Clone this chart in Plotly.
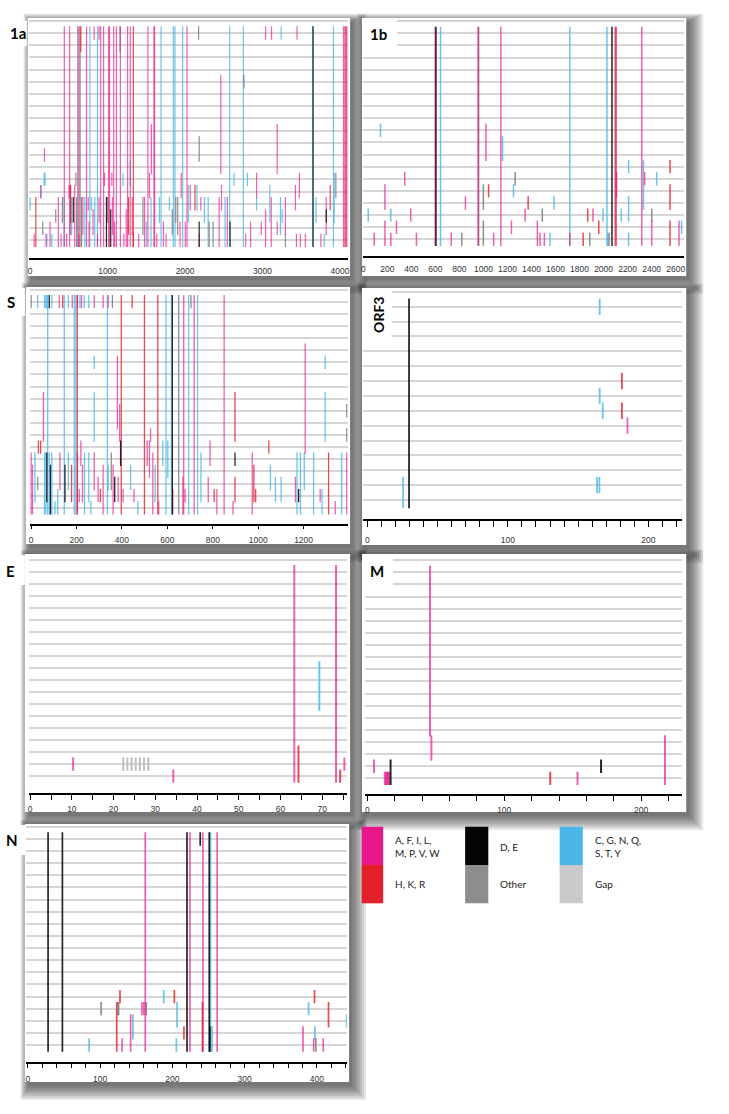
import plotly.graph_objects as go

W, H = 729, 1114

# ---------------- data: (alignment position, first row, last row) ----------------
# rows are sequences counted from the top (0 = first sequence)

# ---- 1a ----
A1A_PINK = [(441, 0, 17), (510, 0, 17), (630, 0, 17), (728, 0, 17), (910, 0, 17), (948, 0, 17),
            (1012, 0, 17), (1025, 0, 17), (1078, 0, 17), (1113, 0, 17), (1165, 0, 17), (1258, 0, 17),
            (1292, 0, 17), (1520, 0, 17), (1598, 0, 17), (1606, 0, 17), (2025, 0, 17), (4045, 0, 17),
            (4062, 0, 17), (4088, 0, 17),
            (826, 0, 0), (890, 0, 0), (3039, 0, 0), (3116, 0, 0), (3445, 0, 0), (2461, 4, 11),
            (3189, 8, 11), (1565, 8, 11), (185, 10, 10), (52, 17, 17), (137, 13, 13), (206, 17, 17),
            (257, 16, 17), (364, 14, 17), (400, 17, 17), (471, 17, 17), (500, 13, 13), (518, 13, 16),
            (575, 13, 17), (629, 17, 17), (680, 14, 16), (750, 14, 14), (760, 16, 17), (812, 15, 16),
            (869, 17, 17), (890, 14, 15), (960, 12, 12), (1055, 12, 12), (1062, 14, 16), (1090, 16, 17),
            (1210, 17, 17), (1241, 15, 17), (1318, 14, 16), (1400, 17, 17), (1477, 14, 17), (1540, 12, 13),
            (1635, 17, 17), (1720, 16, 17), (1755, 17, 17), (1935, 16, 17), (1950, 12, 13), (2003, 16, 17),
            (2067, 13, 14), (2182, 17, 17), (2204, 14, 14), (2439, 14, 17), (2470, 13, 14), (2545, 14, 17),
            (2782, 17, 17), (2846, 16, 17), (2923, 12, 13), (2983, 16, 16), (3039, 15, 17), (3112, 14, 17),
            (3189, 16, 16), (3295, 14, 16), (3424, 13, 14), (3437, 17, 17), (3475, 12, 13), (3488, 17, 17),
            (3552, 17, 17), (3753, 17, 17), (3822, 14, 16)]
A1A_RED = [(1332, 0, 17), (4075, 0, 17), (655, 0, 1), (73, 14, 17), (522, 13, 15), (1270, 14, 16),
           (1330, 17, 17), (2127, 13, 14), (3873, 13, 14)]
A1A_BLUE = [(771, 0, 17), (870, 0, 17), (1690, 0, 17), (1848, 0, 17), (1870, 0, 17), (1969, 0, 17),
            (2576, 0, 17), (2752, 0, 17), (3646, 0, 17), (3915, 0, 17),
            (3240, 0, 0), (180, 12, 12), (0, 14, 14), (141, 13, 13), (193, 12, 12), (215, 17, 17),
            (279, 17, 17), (437, 14, 17), (535, 14, 16), (706, 14, 17), (792, 14, 14), (834, 14, 17),
            (1199, 12, 12), (1292, 11, 12), (1500, 16, 17), (1560, 14, 17), (1669, 14, 15), (1797, 14, 14),
            (2041, 13, 15), (2153, 13, 14), (2250, 14, 15), (2298, 14, 17), (2516, 14, 17), (2632, 12, 12),
            (2804, 12, 12), (2923, 14, 14), (3094, 13, 15), (3231, 14, 16), (3253, 15, 15), (3689, 14, 15),
            (3796, 17, 17), (3924, 12, 15)]
A1A_GRAY = [(615, 0, 17), (645, 0, 17), (1160, 0, 1), (2174, 0, 0), (2760, 4, 4), (2182, 9, 10),
            (163, 16, 16), (330, 15, 15), (416, 14, 15), (590, 12, 12), (600, 14, 17), (664, 14, 17),
            (1000, 14, 15), (1456, 14, 16), (1835, 15, 16), (1880, 14, 15), (1905, 14, 16), (2311, 16, 17),
            (2362, 16, 17), (3295, 17, 17), (3946, 12, 13)]
A1A_BLACK = [(3652, 0, 17), (557, 14, 15), (985, 14, 17), (1040, 15, 17), (2182, 16, 17), (2580, 16, 17),
             (3822, 15, 15)]

# ---- 1b ----
B1B_PINK = [(598, 0, 17), (955, 0, 17), (1145, 0, 17), (2096, 0, 17), (2318, 0, 17),
            (345, 12, 12), (180, 13, 14), (395, 15, 15), (180, 16, 17), (276, 16, 16), (91, 17, 17),
            (229, 17, 17), (442, 17, 17), (732, 17, 17), (850, 14, 14), (1021, 8, 10), (1085, 17, 17),
            (1233, 16, 16), (1347, 15, 15), (1449, 16, 17), (1471, 17, 17), (1507, 17, 17), (1719, 17, 17),
            (1912, 15, 15), (2108, 12, 13), (2342, 12, 12), (2401, 16, 17), (2628, 16, 17)]
B1B_RED = [(2104, 0, 17), (1043, 13, 13), (1372, 14, 14), (1830, 17, 17), (1868, 15, 15), (1960, 16, 16),
           (2553, 11, 11), (2553, 13, 14), (2553, 16, 17)]
B1B_BLUE = [(643, 0, 17), (1719, 0, 17), (2028, 0, 17),
            (143, 8, 8), (41, 15, 15), (229, 15, 15), (1159, 9, 10), (1250, 13, 13), (1554, 17, 17),
            (1587, 14, 14), (1995, 15, 15), (2036, 17, 17), (2147, 15, 15), (2208, 11, 11), (2208, 14, 15),
            (2208, 17, 17), (2332, 11, 14), (2442, 12, 12), (2649, 16, 16)]
B1B_GRAY = [(960, 0, 17), (820, 17, 17), (999, 13, 14), (999, 16, 17), (1264, 12, 12), (1490, 15, 15),
            (1885, 17, 17), (2046, 17, 17), (2401, 15, 15)]
B1B_BLACK = [(605, 0, 17), (2070, 0, 17)]

# ---- S ----
S_BLUE = [(73, 0, 17), (146, 0, 17), (190, 0, 17), (197, 0, 17), (336, 0, 17), (594, 0, 17), (618, 0, 17),
          (694, 0, 17), (733, 0, 17),
          (29, 0, 0), (59, 0, 0), (65, 0, 0), (69, 0, 0), (91, 0, 0), (164, 0, 0), (215, 0, 0), (234, 0, 0),
          (254, 0, 0), (278, 5, 5), (278, 8, 11), (1295, 5, 5), (1295, 8, 11),
          (17, 13, 16), (59, 13, 17), (65, 13, 17), (80, 13, 17), (91, 13, 17), (105, 17, 17), (117, 16, 17),
          (164, 13, 15), (235, 13, 17), (254, 13, 16), (263, 17, 17), (339, 14, 15), (438, 14, 15),
          (470, 17, 17), (546, 14, 16), (580, 12, 13), (602, 12, 14), (748, 13, 16), (1054, 14, 15),
          (1076, 15, 16), (1101, 15, 16), (1171, 13, 17), (1186, 13, 17), (1203, 13, 15), (1244, 13, 17),
          (1281, 16, 17), (1368, 13, 17)]
S_RED = [(203, 0, 17), (397, 0, 17), (499, 0, 17), (558, 0, 17),
         (139, 0, 0), (445, 0, 0), (32, 12, 12), (42, 12, 12), (178, 14, 16), (305, 16, 16), (806, 16, 16),
         (898, 8, 11), (898, 15, 16), (981, 14, 16), (989, 16, 16), (1047, 12, 12), (1310, 13, 17)]
S_PINK = [(672, 0, 17), (718, 0, 17), (850, 0, 17),
          (124, 0, 0), (181, 0, 0), (204, 0, 0), (222, 0, 0), (278, 0, 0), (317, 0, 0), (339, 0, 0),
          (380, 5, 10), (390, 9, 11), (54, 8, 11), (1207, 4, 12), (526, 11, 11),
          (0, 13, 17), (6, 14, 17), (127, 13, 15), (204, 13, 17), (212, 16, 16), (219, 12, 13), (226, 14, 16),
          (278, 13, 15), (295, 15, 16), (317, 14, 17), (361, 14, 17), (383, 15, 16), (405, 16, 16),
          (453, 16, 16), (511, 12, 13), (521, 12, 14), (536, 13, 17), (562, 17, 17), (624, 16, 17),
          (668, 15, 17), (678, 16, 16), (788, 12, 13), (780, 15, 16), (818, 16, 17), (889, 17, 17),
          (974, 13, 17), (1164, 15, 16), (1273, 16, 16), (1339, 17, 17), (1390, 13, 17)]
S_GRAY = [(650, 0, 17), (0, 0, 0), (358, 0, 0), (704, 0, 0), (1390, 9, 9), (1390, 11, 11), (353, 13, 15),
          (29, 15, 15)]
S_BLACK = [(622, 0, 17), (80, 0, 0), (69, 13, 16), (85, 14, 17), (149, 14, 16), (368, 15, 16), (394, 12, 13),
           (898, 13, 13), (1178, 16, 16)]

# ---- ORF3 ----
O3_BLACK = [(29.7, 0, 13)]
O3_BLUE = [(25.5, 12, 13), (165.3, 0, 0), (165.3, 6, 6), (167.5, 7, 7), (163.4, 12, 12), (165.1, 12, 12)]
O3_RED = [(181.1, 5, 5), (181.1, 7, 7)]
O3_PINK = [(185.1, 8, 8)]

# ---- E ----
E_PINK = [(63.3, 0, 17), (73.3, 0, 17), (10.3, 16, 16), (34.3, 17, 17), (75.3, 16, 16)]
E_RED = [(64.3, 15, 17), (74.3, 17, 17)]
E_BLUE = [(69.3, 8, 11)]
E_GAP = [(22.3, 16, 16), (23.3, 16, 16), (24.3, 16, 16), (25.3, 16, 16), (26.3, 16, 16), (27.3, 16, 16),
         (28.3, 16, 16)]

# ---- M ----
M_PINK = [(45.8, 0, 13), (46.8, 14, 15), (4.9, 16, 16), (12.8, 17, 17), (13.6, 17, 17), (14.4, 17, 17),
          (15.2, 17, 17), (16.0, 17, 17), (153.5, 17, 17), (217.4, 14, 17)]
M_BLACK = [(17.0, 16, 17), (170.7, 16, 16)]
M_RED = [(133.6, 17, 17)]

# ---- N ----
N_BLACK = [(28, 0, 17), (47.8, 0, 17), (220.2, 0, 17), (251, 0, 17), (238.5, 0, 0), (251.8, 16, 17)]
N_PINK = [(162.4, 0, 17), (224.3, 0, 17), (242.2, 0, 17), (261.9, 0, 17),
          (130.3, 17, 17), (142.2, 15, 17), (157.8, 14, 14), (160.5, 14, 14), (380.7, 16, 17),
          (395.5, 17, 17), (408.7, 17, 17)]
N_BLUE = [(252.6, 0, 17), (84.8, 17, 17), (188, 13, 13), (206.4, 14, 15), (205.5, 17, 17), (254.8, 16, 17),
          (145.4, 15, 16), (124.7, 14, 14), (388.5, 14, 14), (397.3, 16, 16), (441, 15, 15)]
N_GRAY = [(101.4, 14, 14), (125.5, 14, 14), (163.8, 14, 14), (398.5, 17, 17)]
N_RED = [(241.6, 14, 17), (127.5, 13, 13), (123, 14, 17), (202.7, 13, 13), (216, 16, 16), (396.7, 13, 13),
         (416, 14, 15)]

# legend
LEGEND_LABELS = ["A, F, I, L,<br>M, P, V, W", "H, K, R", "D, E", "Other", "C, G, N, Q,<br>S, T, Y", "Gap"]

# ---------------- styling ----------------
MARK_COL = dict(pink='rgba(232,24,140,0.68)', red='rgba(226,30,38,0.8)', black='rgba(15,15,15,0.9)',
                gray='rgba(125,125,125,0.85)', blue='rgba(70,180,230,0.78)', gap='rgba(190,190,192,1)')
SOLID = dict(pink='#E8178C', red='#E3202A', black='#050505', gray='#8D8D8D', blue='#4BB7E7', gap='#C9CACC')

PANELS = [
    dict(name='1a', n=18, box=(26, 18, 350, 276), xl=26.7, xr=348, x0=28.3, k=0.0779, yr0=33, dy=12.2,
         ytop=19.5, yax=257.7, width=1.2, ticks=dict(tickvals=[0, 1000, 2000, 3000, 4000]), tl=0, so=4,
         marks=[('blue', A1A_BLUE), ('gray', A1A_GRAY), ('pink', A1A_PINK), ('red', A1A_RED), ('black', A1A_BLACK)]),
    dict(name='1b', n=18, box=(362, 18, 688, 276), xl=363, xr=685.5, x0=363.3, k=0.1208, yr0=33.3, dy=12.12,
         ytop=19.5, yax=256, width=1.5, ticks=dict(dtick=200, tick0=0), tl=0, so=4,
         marks=[('blue', B1B_BLUE), ('gray', B1B_GRAY), ('pink', B1B_PINK), ('red', B1B_RED), ('black', B1B_BLACK)]),
    dict(name='S', n=18, box=(24, 287, 350, 544), xl=28.3, xr=347.7, x0=29.3, k=0.2283, yr0=301.7, dy=12.12,
         ytop=288.5, yax=524.3, width=1.3, ticks=dict(dtick=200, tick0=0), tl=3, so=3,
         marks=[('blue', S_BLUE), ('gray', S_GRAY), ('pink', S_PINK), ('red', S_RED), ('black', S_BLACK)]),
    dict(name='ORF3', n=14, box=(362, 288, 688, 545), xl=363.3, xr=683.3, x0=367.3, k=1.4135, yr0=306.7,
         dy=14.87, ytop=290.5, yax=519.3, width=1.8, ticks=dict(dtick=100, tick0=0), tl=6, so=5,
         minor=10, marks=[('blue', O3_BLUE), ('pink', O3_PINK), ('red', O3_RED), ('black', O3_BLACK)]),
    dict(name='E', n=18, box=(23, 554, 350, 812), xl=26.7, xr=346.7, x0=28.3, k=4.196, yr0=571.7, dy=12.03,
         ytop=558.5, yax=793.3, width=2.0, ticks=dict(dtick=10, tick0=0), tl=5, so=1,
         minor=5, marks=[('gap', E_GAP), ('blue', E_BLUE), ('pink', E_PINK), ('red', E_RED)]),
    dict(name='M', n=18, box=(362, 554, 688, 812), xl=365, xr=683.3, x0=367.3, k=1.377, yr0=572.3, dy=12.12,
         ytop=559, yax=794.3, width=2.0, ticks=dict(dtick=100, tick0=0), tl=5, so=1,
         minor=20, marks=[('pink', M_PINK), ('red', M_RED), ('black', M_BLACK)]),
    dict(name='N', n=18, box=(23, 824, 349, 1082), xl=24, xr=346.7, x0=26, k=0.7267, yr0=839, dy=12.12,
         ytop=825.5, yax=1062.3, width=1.7, ticks=dict(dtick=100, tick0=0), tl=4, so=3,
         minor=20, marks=[('blue', N_BLUE), ('gray', N_GRAY), ('pink', N_PINK), ('red', N_RED), ('black', N_BLACK)]),
]

LABELS = [  # text, box (x0,y0,x1,y1), centre, rotation
    ('1a', (0, 21, 25, 46), (16, 33), 0),
    ('1b', (362, 18, 397, 46), (379, 34), 0),
    ('S', (0, 288, 23, 316), (9, 302), 0),
    ('ORF3', (362, 288, 392, 343), (378, 315), -90),
    ('E', (0, 555, 23, 585), (9, 571), 0),
    ('M', (362, 555, 393, 586), (377, 571), 0),
    ('N', (0, 825, 24, 855), (10, 840), 0),
]


def px2x(px):
    return px / W


def py2y(py):
    return 1 - py / H


fig = go.Figure()
shapes = []
annotations = []
layout = dict()

# soft drop shadows (strongest to the lower right), then the white panel cards
for p in PANELS:
    x0, y0, x1, y1 = p['box']
    for s in [15, 13, 11, 9, 7, 5, 3, 1]:
        shapes.append(dict(type='rect', xref='paper', yref='paper', layer='below',
                           x0=px2x(x0 - s * 0.55 + 4), x1=px2x(x1 + s + 2),
                           y0=py2y(y0 - s * 0.55 + 4), y1=py2y(y1 + s + 3),
                           fillcolor='rgba(30,30,30,0.105)', line=dict(width=0)))
for p in PANELS:
    x0, y0, x1, y1 = p['box']
    shapes.append(dict(type='rect', xref='paper', yref='paper', layer='below',
                       x0=px2x(x0), x1=px2x(x1), y0=py2y(y0), y1=py2y(y1),
                       fillcolor='white', line=dict(width=0)))

for i, p in enumerate(PANELS, start=1):
    xa = 'xaxis' if i == 1 else f'xaxis{i}'
    ya = 'yaxis' if i == 1 else f'yaxis{i}'
    xr = 'x' if i == 1 else f'x{i}'
    yr = 'y' if i == 1 else f'y{i}'
    xmin = (p['xl'] - p['x0']) / p['k']
    xmax = (p['xr'] - p['x0']) / p['k']
    ytop_r = (p['ytop'] - p['yr0']) / p['dy']
    ybot_r = (p['yax'] - p['yr0']) / p['dy']
    xaxis = dict(domain=[px2x(p['xl']), px2x(p['xr'])], range=[xmin, xmax], anchor=yr,
                 showgrid=False, zeroline=False, showline=True, linecolor='black', linewidth=2,
                 ticks='outside' if p['tl'] else '', ticklen=p['tl'], tickwidth=1, tickcolor='black',
                 tickfont=dict(family='Liberation Sans, Arial', size=8.5, color='#333'),
                 ticklabelstandoff=int(p['so']), fixedrange=True, **p['ticks'])
    if p.get('minor'):
        xaxis['minor'] = dict(dtick=p['minor'], ticks='outside', ticklen=p['tl'], tickwidth=1,
                              tickcolor='black', showgrid=False)
    yaxis = dict(domain=[py2y(p['yax']), py2y(p['ytop'])], range=[ybot_r, ytop_r], anchor=xr,
                 tickvals=list(range(-1, p['n'])), showticklabels=False, ticks='',
                 showgrid=True, gridcolor='#d6d6d6', gridwidth=1.6, zeroline=False, showline=False,
                 fixedrange=True)
    layout[xa] = xaxis
    layout[ya] = yaxis
    for cat, marks in p['marks']:
        xs, ys = [], []
        for pos, r0, r1 in marks:
            xs += [pos, pos, None]
            ys += [r0 - 0.55, r1 + 0.55, None]
        fig.add_trace(go.Scatter(x=xs, y=ys, mode='lines', xaxis=xr, yaxis=yr, hoverinfo='skip',
                                 line=dict(color=MARK_COL[cat], width=p['width']), showlegend=False))

for text, (bx0, by0, bx1, by1), (cx, cy), rot in LABELS:
    shapes.append(dict(type='rect', xref='paper', yref='paper', layer='above',
                       x0=px2x(bx0), x1=px2x(bx1), y0=py2y(by0), y1=py2y(by1),
                       fillcolor='white', line=dict(width=0)))
    annotations.append(dict(text=f'<b>{text}</b>', x=px2x(cx), y=py2y(cy), xref='paper', yref='paper',
                            showarrow=False, xanchor='center', yanchor='middle', textangle=rot,
                            font=dict(family='Lato, Open Sans, sans-serif', size=15 if rot == 0 else 14,
                                      color='black')))

LEG = [('pink', (361.7, 826.7, 383.3, 865), (393, 846)), ('red', (361.7, 865, 383.3, 903.3), (393, 884)),
       ('black', (465.7, 826.7, 489, 865), (499, 846.5)), ('gray', (465.7, 865, 489, 903.3), (499, 884)),
       ('blue', (560.7, 826.7, 584, 865), (594, 846)), ('gap', (560.7, 865, 584, 903.3), (594, 884))]
for (cat, (x0, y0, x1, y1), (tx, ty)), lab in zip(LEG, LEGEND_LABELS):
    shapes.append(dict(type='rect', xref='paper', yref='paper', layer='below',
                       x0=px2x(x0), x1=px2x(x1), y0=py2y(y0), y1=py2y(y1),
                       fillcolor=SOLID[cat], line=dict(width=0)))
    annotations.append(dict(text=lab, x=px2x(tx), y=py2y(ty), xref='paper', yref='paper', showarrow=False,
                            xanchor='left', yanchor='middle', align='left',
                            font=dict(family='Lato, Open Sans, sans-serif', size=10, color='#222')))

fig.update_layout(width=W, height=H, autosize=False, margin=dict(l=0, r=0, t=0, b=0, pad=0),
                  paper_bgcolor='white', plot_bgcolor='rgba(0,0,0,0)', showlegend=False,
                  shapes=shapes, annotations=annotations, **layout)

fig.write_html("out.html", config={'displayModeBar': False},
               post_script="document.body.style.margin='0';document.body.style.overflow='hidden';")
